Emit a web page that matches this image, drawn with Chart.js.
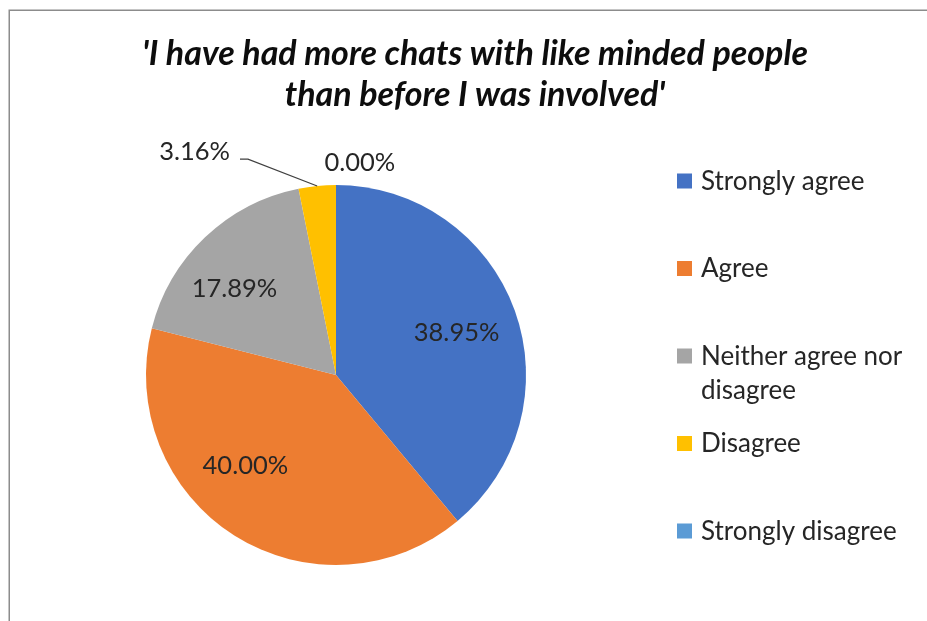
<!DOCTYPE html>
<html>
<head>
<meta charset="utf-8">
<script src="https://cdn.jsdelivr.net/npm/chart.js@4/dist/chart.umd.min.js"></script>
<style>
  html, body { margin: 0; padding: 0; background: #ffffff; }
  #wrap { width: 927px; height: 621px; }
</style>
</head>
<body>
<div id="wrap"><canvas id="pie" width="927" height="621"></canvas></div>
<script>
// Survey answers and their share of respondents (%)
const categories = ['Strongly agree', 'Agree', 'Neither agree nor disagree', 'Disagree', 'Strongly disagree'];
const shares = [38.95, 40.00, 17.89, 3.16, 0.00];
const sliceColors = ['#4472C4', '#ED7D31', '#A5A5A5', '#FFC000', '#5B9BD5'];
const titleLines = ["'I have had more chats with like minded people", "than before I was involved'"];

// Where each percentage label sits, relative to its slice:
// r = distance from centre as a fraction of the radius, turn = degrees off the slice's mid-angle
const labelPlacement = [
  { r: 0.675, turn: 0 },
  { r: 0.672, turn: 13 },
  { r: 0.704, turn: -5.8 },
  { r: 1.227, turn: -16.5, leader: true },
  { r: 1.128, turn: 6.4 }
];

const FONT = 'Lato, "Liberation Sans", sans-serif';

const decorations = {
  id: 'decorations',
  beforeDraw(chart) {
    const ctx = chart.ctx;
    ctx.save();
    ctx.fillStyle = '#ffffff';
    ctx.fillRect(0, 0, chart.width, chart.height);
    ctx.restore();
  },
  afterDraw(chart) {
    const ctx = chart.ctx;
    ctx.save();

    // outer frame
    ctx.strokeStyle = '#8c8c8c';
    ctx.lineWidth = 1.5;
    ctx.strokeRect(9.25, 10.25, chart.width + 20, chart.height + 20);

    // title
    ctx.fillStyle = '#0d0d0d';
    ctx.textAlign = 'center';
    ctx.textBaseline = 'alphabetic';
    ctx.font = 'italic bold 34px ' + FONT;
    ctx.fillText(titleLines[0], 475, 65);
    ctx.fillText(titleLines[1], 475, 106);

    // percentage labels
    const meta = chart.getDatasetMeta(0);
    const ds = chart.data.datasets[0];
    const labelSize = 25.5;
    ctx.font = labelSize + 'px ' + FONT;
    ctx.fillStyle = '#262626';
    meta.data.forEach((arc, i) => {
      const p = labelPlacement[i];
      const mid = (arc.startAngle + arc.endAngle) / 2;
      const a = mid + p.turn * Math.PI / 180;
      const R = arc.outerRadius;
      const x = arc.x + Math.cos(a) * R * p.r;
      const y = arc.y + Math.sin(a) * R * p.r;
      const text = ds.data[i].toFixed(2) + '%';
      if (p.leader) {
        const ex = arc.x + Math.cos(mid) * R;
        const ey = arc.y + Math.sin(mid) * R;
        ctx.strokeStyle = '#404040';
        ctx.lineWidth = 1.2;
        ctx.beginPath();
        ctx.moveTo(ex, ey);
        ctx.lineTo(x, y);
        ctx.lineTo(x - 8, y);
        ctx.stroke();
        ctx.textAlign = 'right';
        ctx.fillText(text, x - 18, y + 1);
      } else {
        ctx.textAlign = 'center';
        ctx.fillText(text, x, y + labelSize * 0.36);
      }
    });

    // legend
    const legSize = 26;
    ctx.font = legSize + 'px ' + FONT;
    ctx.textAlign = 'left';
    const boxX = 677, textX = 701, maxW = 224;
    const firstY = 181, step = 87.5, wrapGap = 34;
    chart.data.labels.forEach((lab, i) => {
      const cy = firstY + i * step;
      ctx.fillStyle = ds.backgroundColor[i];
      ctx.fillRect(boxX, cy - 7.5, 15, 15);
      // wrap words onto extra lines when too wide
      const words = lab.split(' ');
      const lines = [];
      let cur = '';
      words.forEach(w => {
        const t = cur ? cur + ' ' + w : w;
        if (ctx.measureText(t).width > maxW && cur) { lines.push(cur); cur = w; }
        else cur = t;
      });
      lines.push(cur);
      ctx.fillStyle = '#262626';
      lines.forEach((ln, k) => {
        ctx.fillText(ln, textX, cy + 8.5 + k * wrapGap);
      });
    });

    ctx.restore();
  }
};

new Chart(document.getElementById('pie'), {
  type: 'pie',
  data: {
    labels: categories,
    datasets: [{
      data: shares,
      backgroundColor: sliceColors,
      borderWidth: 0
    }]
  },
  options: {
    responsive: false,
    animation: false,
    layout: { padding: { left: 146, right: 401, top: 185, bottom: 56 } },
    plugins: {
      legend: { display: false },
      title: { display: false },
      tooltip: { enabled: false }
    }
  },
  plugins: [decorations]
});
</script>
</body>
</html>
